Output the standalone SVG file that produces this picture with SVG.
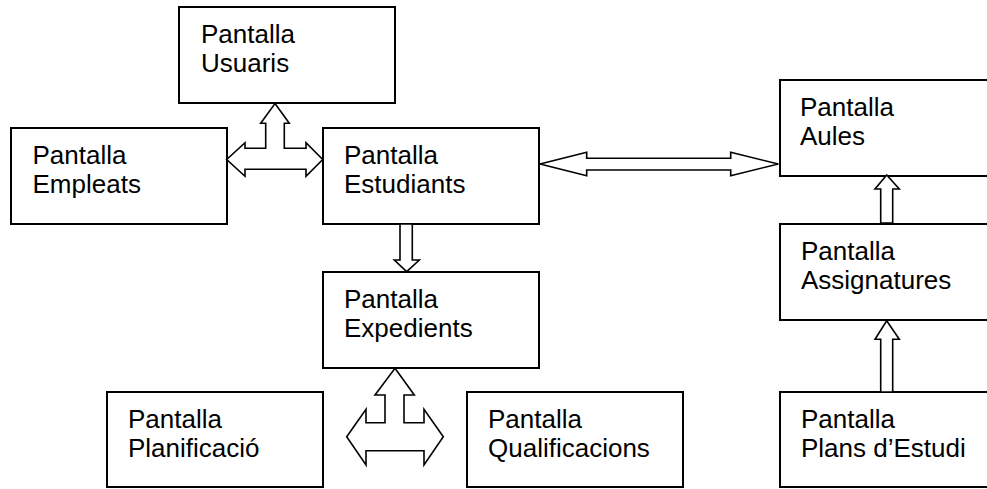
<svg xmlns="http://www.w3.org/2000/svg" width="987" height="489" viewBox="0 0 987 489">
  <style>
    .box rect { fill: #fff; stroke: #000; stroke-width: 2; }
    .box text { font-family: "Liberation Sans", Arial, sans-serif; font-size: 26px; fill: #000; }
    .arrow { fill: #fff; stroke: #000; stroke-width: 1.6; stroke-linejoin: miter; }
  </style>
  <rect width="987" height="489" fill="#fff"/>

  <g id="usuaris" class="box">
    <rect x="179" y="7" width="216" height="96"/>
    <text x="201" y="43">Pantalla</text>
    <text x="201" y="72">Usuaris</text>
  </g>
  <g id="empleats" class="box">
    <rect x="11" y="128" width="216" height="96"/>
    <text x="32.5" y="164">Pantalla</text>
    <text x="32.5" y="193">Empleats</text>
  </g>
  <g id="estudiants" class="box">
    <rect x="323" y="128" width="216" height="96"/>
    <text x="344" y="164">Pantalla</text>
    <text x="344" y="193">Estudiants</text>
  </g>
  <g id="expedients" class="box">
    <rect x="323" y="272" width="216" height="96"/>
    <text x="344" y="308">Pantalla</text>
    <text x="344" y="337">Expedients</text>
  </g>
  <g id="planificacio" class="box">
    <rect x="107" y="392" width="216" height="95"/>
    <text x="128" y="428">Pantalla</text>
    <text x="128" y="457">Planificació</text>
  </g>
  <g id="qualificacions" class="box">
    <rect x="467" y="392" width="216" height="95"/>
    <text x="488" y="428">Pantalla</text>
    <text x="488" y="457">Qualificacions</text>
  </g>
  <g id="aules" class="box">
    <rect x="780" y="80" width="216" height="96"/>
    <text x="800" y="116">Pantalla</text>
    <text x="800" y="145">Aules</text>
  </g>
  <g id="assignatures" class="box">
    <rect x="780" y="224" width="216" height="96"/>
    <text x="801" y="260">Pantalla</text>
    <text x="801" y="289">Assignatures</text>
  </g>
  <g id="plans" class="box">
    <rect x="780" y="392" width="216" height="95"/>
    <text x="801" y="428">Pantalla</text>
    <text x="801" y="457">Plans d’Estudi</text>
  </g>

  <g id="connectors">
    <!-- three-way arrow: Usuaris / Empleats / Estudiants -->
    <polygon class="arrow" points="275,103.5 289.3,123.3 284.3,123.3 284.3,148.3 306,148.3 306,142.7 322.7,159.5 306,176.3 306,169.3 245,169.3 245,176.3 226.7,159.5 245,142.7 245,148.3 265.7,148.3 265.7,123.3 260.7,123.3"/>
    <!-- Estudiants <-> Aules -->
    <polygon class="arrow" points="540,164 586.7,152.3 586.7,158.3 730.7,158.3 730.7,152.3 778.3,164 730.7,175.7 730.7,170 586.7,170 586.7,175.7"/>
    <!-- Estudiants -> Expedients -->
    <polygon class="arrow" points="400,224 412.3,224 412.3,260 419.3,260 406.7,271.7 394.3,260 400,260"/>
    <!-- three-way arrow below Expedients -->
    <polygon class="arrow" points="395,368.3 414.3,395 404,395 404,422.7 424,422.7 424,409.3 443.3,436.7 424,465 424,450.7 366,450.7 366,465 346.7,436.7 366,409.3 366,422.7 385,422.7 385,395 375,395"/>
    <!-- Assignatures -> Aules -->
    <polygon class="arrow" points="886.7,175 899.3,189 892.7,189 892.7,223 880.7,223 880.7,189 875,189"/>
    <!-- Plans d'Estudi -> Assignatures -->
    <polygon class="arrow" points="886.7,320.7 899.3,339.3 892.7,339.3 892.7,392 880.7,392 880.7,339.3 875,339.3"/>
  </g>
</svg>
